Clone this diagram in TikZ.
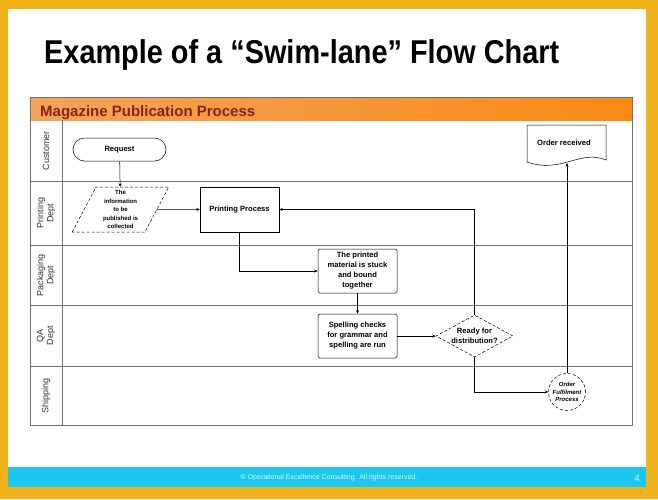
\documentclass[tikz,border=0pt]{standalone}
\usepackage{fontspec}
\setmainfont{Liberation Sans}
\newfontfamily\titlefont[FakeStretch=0.875]{Liberation Sans}
\usetikzlibrary{shapes.geometric,arrows.meta}
\definecolor{frameyel}{HTML}{F2B41C}
\definecolor{footcyan}{HTML}{1CC6EC}
\definecolor{foottext}{HTML}{D8F8FF}
\definecolor{hdrleft}{HTML}{F4A35C}
\definecolor{hdrright}{HTML}{F88A14}
\definecolor{hdrtext}{HTML}{8A2410}
\definecolor{lanegray}{HTML}{707070}
\begin{document}
\begin{tikzpicture}[x=1pt,y=-1pt,
        lane/.style={draw=lanegray,line width=0.7pt},
        flow/.style={-{Stealth[length=3.5pt,width=3pt]},line width=0.5pt},
        txt/.style={font=\fontsize{7.6}{10}\selectfont\bfseries,align=center,inner sep=1pt},
        smalltxt/.style={font=\fontsize{6}{8.5}\selectfont\bfseries,align=center,inner sep=0pt},
        procbox/.style={txt,draw,line width=0.5pt,minimum width=79pt,minimum height=44pt},
        lanelabel/.style={rotate=90,align=center,text=black!80,font=\fontsize{9}{10}\selectfont}]
    \useasboundingbox (0,0) rectangle (658,499);
    \fill[frameyel] (0,0) rectangle (658,499);
    \fill[white] (8,9) rectangle (646,467);
    \fill[footcyan] (8,467) rectangle (646,487);
    \node[anchor=base west,inner sep=0pt,font={\titlefont\fontsize{33}{36}\selectfont\bfseries}] (title) at (44,63) {Example of a “Swim-lane” Flow Chart};
    \shade[left color=hdrleft,right color=hdrright] (30,97) rectangle (632,120);
    \node[anchor=base west,inner sep=0pt,text=hdrtext,font=\fontsize{15}{16}\selectfont\bfseries] (hdr) at (40,116) {Magazine Publication Process};
    \foreach \y in {181,245,305,366}
        \draw[lane] (30,\y) -- (632,\y);
    \draw[lane] (62,120) -- (62,425);
    \draw[draw=lanegray,line width=0.8pt] (30,97) rectangle (632,425);
    \foreach \name/\y in {Customer/150.5,Printing\\Dept/213,Packaging\\Dept/275,QA\\Dept/335.5,Shipping/395.5}
        \node[lanelabel] at (46,\y) {\name};

    \node[txt,draw,line width=0.5pt,rounded corners=11.5pt,minimum width=93pt,minimum height=23pt] (req) at (119.5,149.5) {Request};
    \node[smalltxt,draw,densely dashed,line width=0.5pt,trapezium,trapezium left angle=66,trapezium right angle=114,trapezium stretches=true,minimum width=97pt,minimum height=45pt] (info) at (120.5,209.5) {The\\information\\to be\\published is\\collected};
    \node[procbox,minimum height=45pt] (prt) at (239.5,209.5) {Printing Process};
    \node[procbox,rounded corners=1.5pt] (pkg) at (357.5,271) {The printed\\material is stuck\\and bound\\together};
    \node[procbox,rounded corners=1.5pt] (qa) at (357.5,336) {Spelling checks\\for grammar and\\spelling are run};
    \node[txt,draw,densely dashed,line width=0.5pt,diamond,aspect=1.83,inner sep=0pt,minimum width=77pt,minimum height=42pt] (rdy) at (474.5,336) {Ready for\\distribution?};
    \node[font=\fontsize{6}{7.5}\selectfont\bfseries\itshape,align=center,inner sep=0pt,draw,densely dashed,line width=0.5pt,circle,minimum size=37pt] (ful) at (567,392) {Order\\Fulfilment\\Process};
    \node[txt] (ordrcv) at (564,143) {Order received};
    \coordinate (ordbot) at (567,163);
    \draw[line width=0.5pt] (527,162) -- (527,125) -- (606,125) -- (606,160) .. controls (580,149) and (562,174) .. (527,162);

    \draw[flow] (req) -- (info);
    \draw[flow] (info) -- (prt);
    \draw[flow] (prt.south) |- (pkg.west);
    \draw[flow] (pkg) -- (qa);
    \draw[flow] (qa) -- (rdy);
    \draw[flow] (rdy.north) |- (prt.east);
    \draw[flow] (rdy.south) |- (ful.west);
    \draw[flow] (ful.north) -- (ordbot);

    \node[font=\fontsize{7}{8}\selectfont,text=foottext,inner sep=0pt] (foot) at (329,478) {© Operational Excellence Consulting.  All rights reserved.};
    \node[font=\fontsize{9}{10}\selectfont,text=foottext,inner sep=0pt] (pg) at (637,478) {4};
\end{tikzpicture}
\end{document}
